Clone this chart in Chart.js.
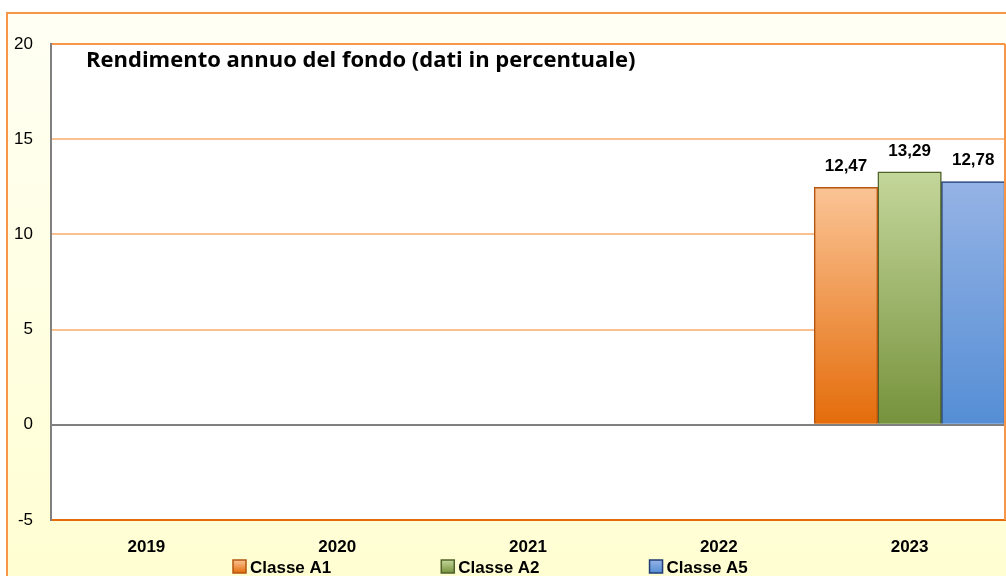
<!DOCTYPE html>
<html>
<head>
<meta charset="utf-8">
<script src="https://cdn.jsdelivr.net/npm/chart.js@4.4.1/dist/chart.umd.min.js"></script>
<style>
  html, body { margin: 0; padding: 0; background: #fff; }
  #wrap { width: 1006px; height: 576px; }
</style>
</head>
<body>
<div id="wrap"><canvas id="myChart"></canvas></div>
<script>
// data
var years = ['2019', '2020', '2021', '2022', '2023'];
var classeA1 = [null, null, null, null, 12.47];
var classeA2 = [null, null, null, null, 13.29];
var classeA5 = [null, null, null, null, 12.78];
var seriesNames = ['Classe A1', 'Classe A2', 'Classe A5'];
var yTicks = [-5, 0, 5, 10, 15, 20];
var chartTitle = 'Rendimento annuo del fondo (dati in percentuale)';

var sans = "'Liberation Sans', Arial, sans-serif";

// vertical gradient per bar, from top of bar down to zero line
function barGradient(top, bottom) {
  return function (c) {
    var chart = c.chart, y = chart.scales.y;
    if (!chart.chartArea || !y || c.raw == null) return bottom;
    var g = chart.ctx.createLinearGradient(0, y.getPixelForValue(c.raw), 0, y.getPixelForValue(0));
    g.addColorStop(0, top);
    g.addColorStop(1, bottom);
    return g;
  };
}

var gradTop = ['#FBC495', '#C4D79B', '#95B3E5'];
var gradBottom = ['#E46C0A', '#76923C', '#558ED5'];
var strokes = ['#B4560F', '#4F6228', '#1F3C74'];

var framePlugin = {
  id: 'frame',
  beforeDraw: function (chart) {
    var ctx = chart.ctx, ca = chart.chartArea;
    ctx.save();
    ctx.fillStyle = '#fff';
    ctx.fillRect(0, 0, chart.width, chart.height);
    var g = ctx.createLinearGradient(0, 13, 0, chart.height);
    g.addColorStop(0, '#FFFFF4');
    g.addColorStop(1, '#FFFED2');
    ctx.fillStyle = g;
    ctx.fillRect(7, 13, chart.width - 7, chart.height - 13);
    ctx.strokeStyle = '#F79646';
    ctx.lineWidth = 2;
    ctx.beginPath();
    ctx.moveTo(7, chart.height);
    ctx.lineTo(7, 13);
    ctx.lineTo(chart.width, 13);
    ctx.stroke();
    ctx.fillStyle = '#fff';
    ctx.fillRect(ca.left, ca.top, ca.right - ca.left, ca.bottom - ca.top);
    ctx.restore();
  },
  afterDraw: function (chart) {
    var ctx = chart.ctx, ca = chart.chartArea;
    ctx.save();
    // right edge of the plot
    ctx.strokeStyle = '#F79646';
    ctx.lineWidth = 2;
    ctx.beginPath();
    ctx.moveTo(ca.right, ca.top);
    ctx.lineTo(ca.right, ca.bottom);
    ctx.stroke();

    // title inside the plot
    ctx.fillStyle = '#000';
    ctx.font = "bold 22px 'Open Sans', sans-serif";
    ctx.textAlign = 'left';
    ctx.textBaseline = 'alphabetic';
    ctx.fillText(chartTitle, ca.left + 35, ca.top + 23);

    // legend under the year labels
    ctx.font = 'bold 17px ' + sans;
    var box = 13, gap = 4, spacing = 110;
    var x = ca.left + 182;
    var yb = chart.height - 3;
    chart.data.datasets.forEach(function (ds, i) {
      var g = ctx.createLinearGradient(0, yb - 13, 0, yb);
      g.addColorStop(0, gradTop[i]);
      g.addColorStop(1, gradBottom[i]);
      ctx.fillStyle = g;
      ctx.fillRect(x, yb - 13, box, box);
      ctx.strokeStyle = strokes[i];
      ctx.lineWidth = 1.5;
      ctx.strokeRect(x, yb - 13, box, box);
      ctx.fillStyle = '#000';
      ctx.fillText(ds.label, x + box + gap, yb);
      x += box + gap + ctx.measureText(ds.label).width + spacing;
    });
    ctx.restore();
  }
};

var valueLabels = {
  id: 'valueLabels',
  afterDatasetsDraw: function (chart) {
    var ctx = chart.ctx;
    ctx.save();
    ctx.fillStyle = '#000';
    ctx.font = 'bold 17px ' + sans;
    ctx.textAlign = 'center';
    ctx.textBaseline = 'alphabetic';
    chart.data.datasets.forEach(function (ds, i) {
      chart.getDatasetMeta(i).data.forEach(function (bar, j) {
        var v = ds.data[j];
        if (v == null) return;
        ctx.fillText(v.toFixed(2).replace('.', ','), bar.x, bar.y - 16);
      });
    });
    ctx.restore();
  }
};

var ctx = document.getElementById('myChart').getContext('2d');
var myChart = new Chart(ctx, {
  type: 'bar',
  data: {
    labels: years,
    datasets: [
      { label: seriesNames[0], data: classeA1,
        backgroundColor: barGradient(gradTop[0], gradBottom[0]), borderColor: strokes[0], borderWidth: 1.5 },
      { label: seriesNames[1], data: classeA2,
        backgroundColor: barGradient(gradTop[1], gradBottom[1]), borderColor: strokes[1], borderWidth: 1.5 },
      { label: seriesNames[2], data: classeA5,
        backgroundColor: barGradient(gradTop[2], gradBottom[2]), borderColor: strokes[2], borderWidth: 1.5 }
    ]
  },
  options: {
    responsive: true,
    maintainAspectRatio: false,
    animation: false,
    datasets: { bar: { categoryPercentage: 1, barPercentage: 1 } },
    layout: { padding: { left: 13, top: 44, right: 1, bottom: 0 } },
    plugins: {
      tooltip: { enabled: false },
      legend: { display: false }
    },
    scales: {
      x: {
        grid: { display: false, drawTicks: false },
        border: { color: '#E46C0A', width: 2 },
        ticks: { color: '#000', padding: 19, font: { family: sans, size: 17, weight: 'bold', lineHeight: 1 } },
        afterFit: function (scale) { scale.height = 56; }
      },
      y: {
        min: yTicks[0],
        max: yTicks[yTicks.length - 1],
        ticks: { stepSize: 5, color: '#000', padding: 18, font: { family: sans, size: 17 } },
        border: { color: '#808080', width: 2 },
        afterFit: function (scale) { scale.width = 38; },
        grid: {
          drawTicks: false,
          lineWidth: 2,
          color: function (c) {
            var v = c.tick ? c.tick.value : null;
            if (v === 0) return '#808080';
            if (v === yTicks[0]) return '#E46C0A';
            if (v === yTicks[yTicks.length - 1]) return '#F79646';
            return '#FAC090';
          }
        }
      }
    }
  },
  plugins: [framePlugin, valueLabels]
});
</script>
</body>
</html>
